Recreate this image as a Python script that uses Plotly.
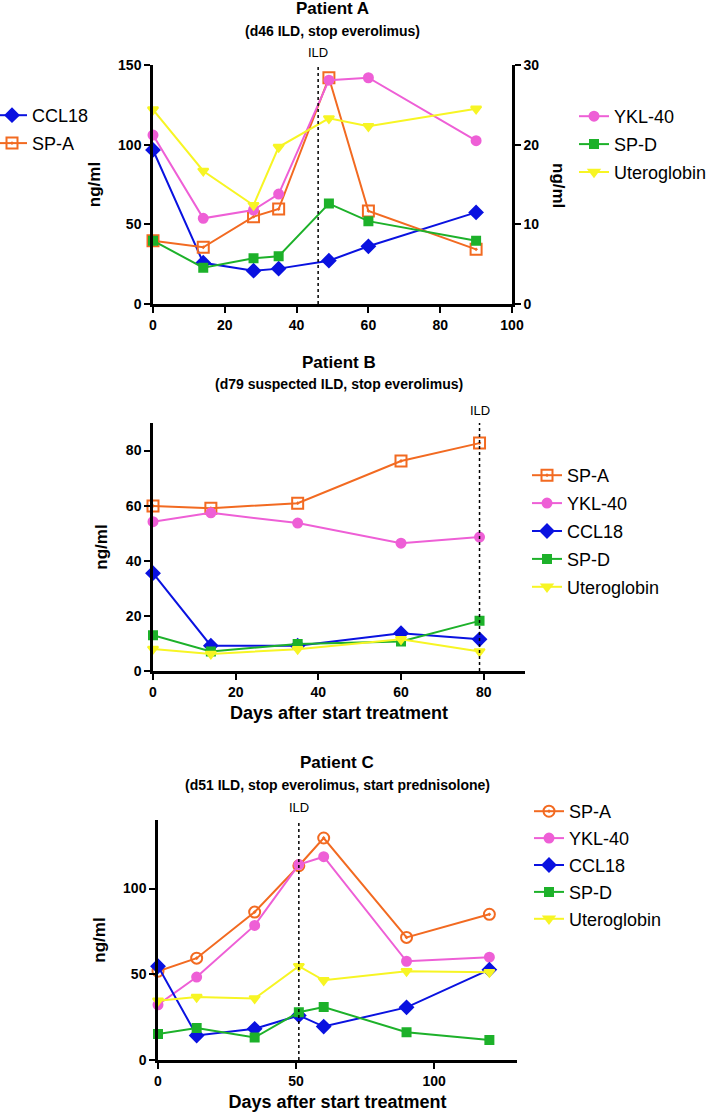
import plotly.graph_objects as go

W, H = 709, 1112
OFF = 0  # body margin removed below, so figure pixels = window pixels
FONT = "Liberation Sans"

# ---------------- data ----------------
# Patient A
a_days = [0, 14, 28, 35, 49, 60, 90]
a_ccl18 = [96.7, 25.9, 20.9, 22.2, 27.2, 36.2, 57.5]          # left axis
a_spa = [39.7, 35.6, 54.8, 59.6, 142.0, 58.4, 34.3]           # left axis
a_ykl40 = [21.2, 10.75, 11.8, 13.8, 28.1, 28.4, 20.5]         # right axis
a_spd = [7.95, 4.56, 5.73, 6.0, 12.6, 10.4, 7.95]             # right axis
a_utero = [24.4, 16.7, 12.4, 19.7, 23.3, 22.3, 24.5]          # right axis
a_ild = 46

# Patient B
b_days = [0, 14, 35, 60, 79]
b_spa = [59.9, 59.1, 60.9, 76.2, 82.7]
b_ykl40 = [54.2, 57.4, 53.7, 46.4, 48.6]
b_ccl18 = [35.5, 9.2, 9.2, 13.7, 11.5]
b_spd = [13.0, 7.1, 9.8, 10.7, 18.2]
b_utero = [8.0, 6.2, 7.9, 11.5, 7.1]
b_ild = 79

# Patient C
c_days = [0, 14, 35, 51, 60, 90, 120]
c_spa = [51.8, 59.4, 86.3, 113.3, 129.5, 71.5, 85.0]
c_ykl40 = [32.2, 48.4, 78.5, 114.0, 118.6, 57.6, 60.0]
c_ccl18 = [54.7, 14.3, 18.2, 26.0, 19.5, 30.7, 52.7]
c_spd = [15.2, 18.6, 13.1, 27.9, 30.9, 16.2, 11.7]
c_utero = [34.6, 36.7, 35.9, 54.7, 46.5, 51.8, 51.2]
c_ild = 51

# ---------------- styles ----------------
ORANGE = "#F26A21"
PINK = "#EE5FD6"
BLUE = "#0A12E0"
GREEN = "#1DB12A"
YELLOW = "#F7F524"

def px_x(p):
    return (p - OFF) / W

def px_y(p):
    return 1 - (p - OFF) / H

fig = go.Figure()

def add(x, y, name, color, symbol, xa, ya, legend, size=10):
    fig.add_trace(go.Scatter(
        x=x, y=y, name=name, mode="lines+markers",
        line=dict(color=color, width=2),
        marker=dict(color=color, symbol=symbol, size=size,
                    line=dict(color=color, width=2)),
        xaxis=xa, yaxis=ya, legend=legend, cliponaxis=False,
        legendgroup=legend + name,
    ))

# Panel A
add(a_days, a_ccl18, "CCL18", BLUE, "diamond", "x", "y", "legend", 10)
add(a_days, a_spa, "SP-A", ORANGE, "square-open-dot", "x", "y", "legend", 11)
add(a_days, a_ykl40, "YKL-40", PINK, "circle", "x", "y2", "legend2", 9)
add(a_days, a_spd, "SP-D", GREEN, "square", "x", "y2", "legend2", 8)
add(a_days, a_utero, "Uteroglobin", YELLOW, "triangle-down", "x", "y2", "legend2", 9)

# Panel B
add(b_days, b_spa, "SP-A", ORANGE, "square-open-dot", "x2", "y3", "legend3", 11)
add(b_days, b_ykl40, "YKL-40", PINK, "circle", "x2", "y3", "legend3", 9)
add(b_days, b_ccl18, "CCL18", BLUE, "diamond", "x2", "y3", "legend3", 10)
add(b_days, b_spd, "SP-D", GREEN, "square", "x2", "y3", "legend3", 8)
add(b_days, b_utero, "Uteroglobin", YELLOW, "triangle-down", "x2", "y3", "legend3", 9)

# Panel C
add(c_days, c_spa, "SP-A", ORANGE, "circle-open-dot", "x3", "y4", "legend4", 11)
add(c_days, c_ykl40, "YKL-40", PINK, "circle", "x3", "y4", "legend4", 9)
add(c_days, c_ccl18, "CCL18", BLUE, "diamond", "x3", "y4", "legend4", 10)
add(c_days, c_spd, "SP-D", GREEN, "square", "x3", "y4", "legend4", 8)
add(c_days, c_utero, "Uteroglobin", YELLOW, "triangle-down", "x3", "y4", "legend4", 9)

tickfont = dict(family=FONT, size=14, color="black", weight="bold")
axcommon = dict(showline=True, linecolor="black", linewidth=2.5, ticks="outside",
                ticklen=6, tickwidth=2, tickcolor="black", showgrid=False,
                zeroline=False, tickfont=tickfont, fixedrange=True)
titlefont = dict(family=FONT, size=17, color="black", weight="bold")
xtitlefont = dict(family=FONT, size=18, color="black", weight="bold")

fig.update_layout(
    width=W, height=H, margin=dict(l=0, r=0, t=0, b=0, autoexpand=False),
    paper_bgcolor="white", plot_bgcolor="white",
    font=dict(family=FONT, color="black"),
    xaxis=dict(domain=[px_x(153), px_x(512)], range=[0, 100], tickvals=[0, 20, 40, 60, 80, 100],
               anchor="y", **axcommon),
    yaxis=dict(domain=[px_y(304), px_y(65)], range=[0, 150], tickvals=[0, 50, 100, 150],
               anchor="x", title=dict(text="ng/ml", font=titlefont, standoff=14), **axcommon),
    yaxis2=dict(overlaying="y", side="right", range=[0, 30], tickvals=[0, 10, 20, 30],
                anchor="x", **axcommon),
    xaxis2=dict(domain=[px_x(153), px_x(525)], range=[0, 90], tickvals=[0, 20, 40, 60, 80],
                anchor="y3", title=dict(text="Days after start treatment", font=xtitlefont, standoff=8),
                **axcommon),
    yaxis3=dict(domain=[px_y(671), px_y(423)], range=[0, 90], tickvals=[0, 20, 40, 60, 80],
                anchor="x2", title=dict(text="ng/ml", font=titlefont, standoff=14), **axcommon),
    xaxis3=dict(domain=[px_x(158), px_x(517)], range=[0, 130], tickvals=[0, 50, 100],
                anchor="y4", title=dict(text="Days after start treatment", font=xtitlefont, standoff=8),
                **axcommon),
    yaxis4=dict(domain=[px_y(1060), px_y(820)], range=[0, 140], tickvals=[0, 50, 100],
                anchor="x3", title=dict(text="ng/ml", font=titlefont, standoff=14), **axcommon),
)

legfont = dict(family=FONT, size=18, color="black")
legcommon = dict(font=legfont, bgcolor="rgba(0,0,0,0)", itemwidth=30,
                 traceorder="grouped", xanchor="left", yanchor="top")
fig.update_layout(
    legend=dict(x=px_x(-8), y=px_y(97), tracegroupgap=1.5, **legcommon),
    legend2=dict(x=px_x(574), y=px_y(98), tracegroupgap=1.5, **legcommon),
    legend3=dict(x=px_x(527), y=px_y(457), tracegroupgap=1.5, **legcommon),
    legend4=dict(x=px_x(529), y=px_y(793), tracegroupgap=0.5, **legcommon),
)

# ILD lines
for xa, ya, xv in [("x", "y", a_ild), ("x2", "y3", b_ild), ("x3", "y4", c_ild)]:
    fig.add_shape(type="line", xref=xa, yref=ya + " domain", x0=xv, x1=xv, y0=0, y1=1,
                  line=dict(color="black", width=1.5, dash="dot"))
    fig.add_annotation(text="ILD", xref=xa, yref=ya + " domain", x=xv, y=1, yanchor="bottom",
                       yshift=3, showarrow=False, font=dict(family=FONT, size=13, color="black"))

# right axis title for panel A (rotated clockwise)
fig.add_annotation(text="<b>ng/ml</b>", xref="paper", yref="paper", x=px_x(558), y=px_y(185),
                   xanchor="center", yanchor="middle",
                   textangle=90, showarrow=False, font=dict(family=FONT, size=17, color="black"))

# panel titles
titles = [("Patient A", "(d46 ILD, stop everolimus)", 332, 9, 31),
          ("Patient B", "(d79 suspected ILD, stop everolimus)", 339, 362, 384),
          ("Patient C", "(d51 ILD, stop everolimus, start prednisolone)", 337, 762, 785)]
for t, s, cx, ty, sy in titles:
    fig.add_annotation(text=f"<b>{t}</b>", xref="paper", yref="paper", x=px_x(cx), y=px_y(ty),
                       xanchor="center", yanchor="middle",
                       showarrow=False, font=dict(family=FONT, size=17, color="black"))
    fig.add_annotation(text=f"<b>{s}</b>", xref="paper", yref="paper", x=px_x(cx), y=px_y(sy),
                       xanchor="center", yanchor="middle",
                       showarrow=False, font=dict(family=FONT, size=14, color="black"))

fig.write_html("out.html", config={"displayModeBar": False},
               post_script="document.body.style.margin='0';")
